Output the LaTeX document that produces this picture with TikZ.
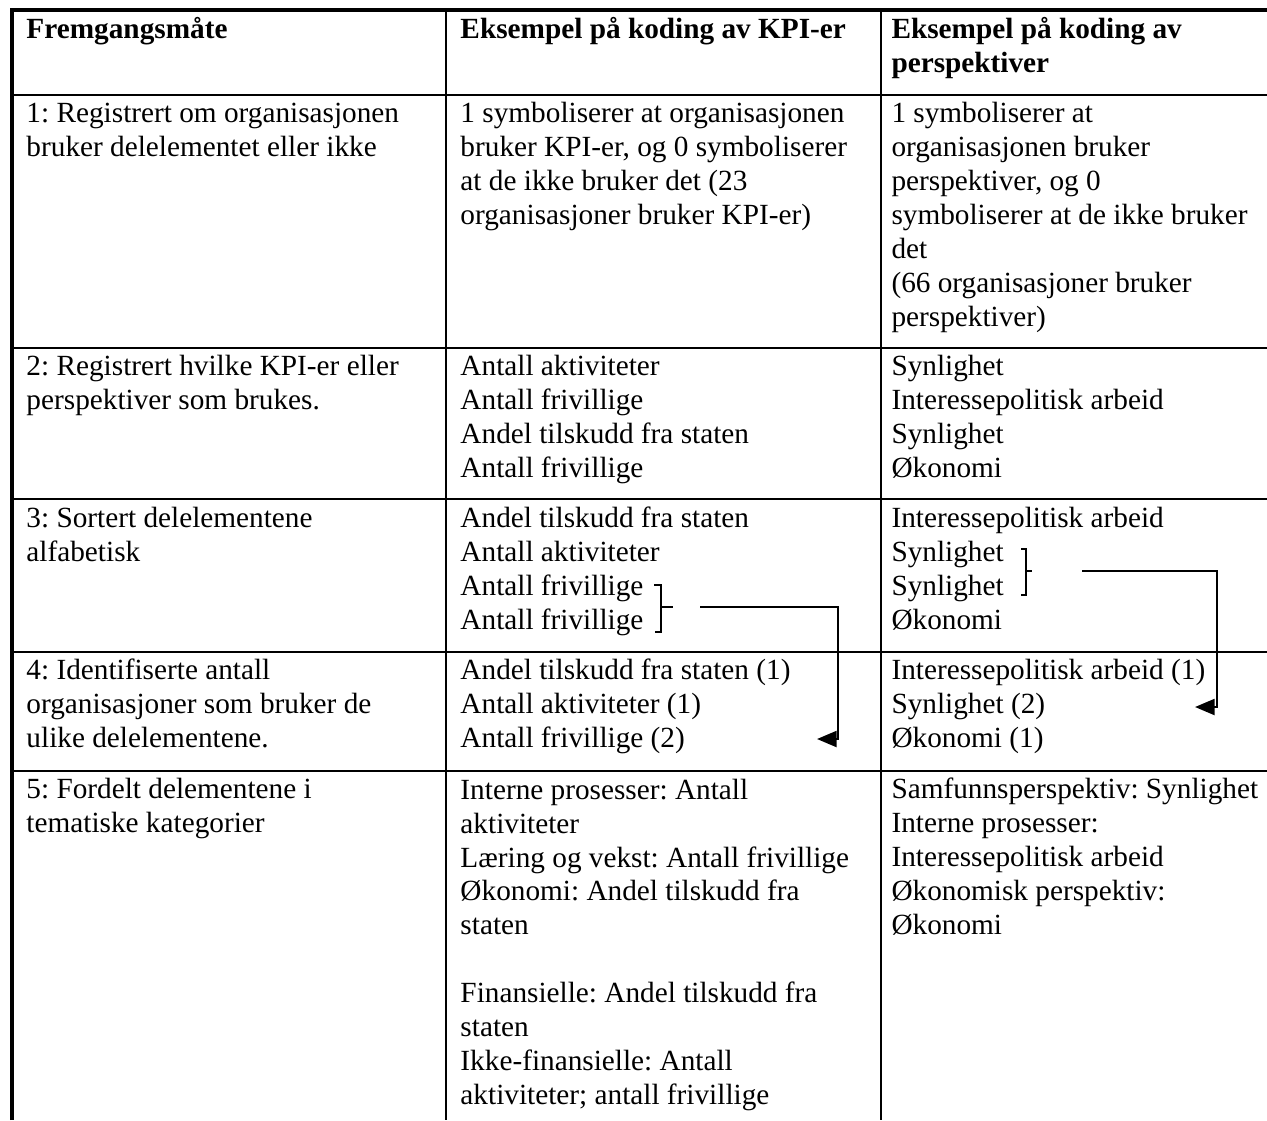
\documentclass[tikz,border=0pt]{standalone}
\usepackage{fontspec}
\setmainfont{Liberation Serif}
\usetikzlibrary{arrows.meta}
\newcommand\cellstrut{\rule{0pt}{10pt}}
\frenchspacing
\begin{document}
\begin{tikzpicture}[x=0.41pt,y=-0.41pt,
  cell/.style={anchor=north west,inner sep=0pt,align=left,font=\frenchspacing\fontsize{12}{13.94}\selectfont},
  head/.style={cell,font=\frenchspacing\fontsize{12}{13.94}\selectfont\bfseries},
  border/.style={line width=1.3pt},
  rule/.style={line width=1pt},
  conn/.style={line width=1pt,-{Triangle[length=8pt,width=6.5pt]}},
  bracepath/.style={line width=0.5pt}]
\useasboundingbox (0,0) rectangle (1267,1120);

% table lines
\draw[border] (12,1120) -- (12,10) -- (1267,10);
\draw[rule] (446,10) -- (446,1120);
\draw[rule] (881,10) -- (881,1120);
\foreach \yy in {95,348,499,652,771}{\draw[rule] (12,\yy) -- (1267,\yy);}

% header
\node[head] (h1) at (26,13.6) {\cellstrut Fremgangsmåte};
\node[head] (h2) at (460,13.6) {\cellstrut Eksempel på koding av KPI-er};
\node[head] (h3) at (891,13.6) {\cellstrut Eksempel på koding av\\perspektiver};

% row 1
\node[cell] (r1a) at (26,98.1) {\cellstrut 1: Registrert om organisasjonen\\bruker delelementet eller ikke};
\node[cell] (r1b) at (460,98.1) {\cellstrut 1 symboliserer at organisasjonen\\bruker KPI-er, og 0 symboliserer\\at de ikke bruker det (23\\organisasjoner bruker KPI-er)};
\node[cell] (r1c) at (891,98.1) {\cellstrut 1 symboliserer at\\organisasjonen bruker\\perspektiver, og 0\\symboliserer at de ikke bruker\\det\\(66 organisasjoner bruker\\perspektiver)};

% row 2
\node[cell] (r2a) at (26,351.1) {\cellstrut 2: Registrert hvilke KPI-er eller\\perspektiver som brukes.};
\node[cell] (r2b) at (460,351.1) {\cellstrut Antall aktiviteter\\Antall frivillige\\Andel tilskudd fra staten\\Antall frivillige};
\node[cell] (r2c) at (891,351.1) {\cellstrut Synlighet\\Interessepolitisk arbeid\\Synlighet\\Økonomi};

% row 3
\node[cell] (r3a) at (26,502.6) {\cellstrut 3: Sortert delelementene\\alfabetisk};
\node[cell] (r3b) at (460,502.6) {\cellstrut Andel tilskudd fra staten\\Antall aktiviteter\\Antall frivillige\\Antall frivillige};
\node[cell] (r3c) at (891,502.6) {\cellstrut Interessepolitisk arbeid\\Synlighet\\Synlighet\\Økonomi};

% row 4
\node[cell] (r4a) at (26,655.1) {\cellstrut 4: Identifiserte antall\\organisasjoner som bruker de\\ulike delelementene.};
\node[cell] (r4b) at (460,655.1) {\cellstrut Andel tilskudd fra staten (1)\\Antall aktiviteter (1)\\Antall frivillige (2)};
\node[cell] (r4c) at (891,655.1) {\cellstrut Interessepolitisk arbeid (1)\\Synlighet (2)\\Økonomi (1)};

% row 5
\node[cell] (r5a) at (26,774.1) {\cellstrut 5: Fordelt delementene i\\tematiske kategorier};
\node[cell] (r5b) at (460,774.1) {\cellstrut Interne prosesser: Antall\\aktiviteter\\Læring og vekst: Antall frivillige\\Økonomi: Andel tilskudd fra\\staten\\[13.94pt]Finansielle: Andel tilskudd fra\\staten\\Ikke-finansielle: Antall\\aktiviteter; antall frivillige};
\node[cell] (r5c) at (891,774.1) {\cellstrut Samfunnsperspektiv: Synlighet\\Interne prosesser:\\Interessepolitisk arbeid\\Økonomisk perspektiv:\\Økonomi};

% brackets
\draw[bracepath] (654,585) -- (661,585) -- (661,632) -- (655,632);
\draw[bracepath] (661,607) -- (673,607);
\draw[bracepath] (1021,549) -- (1026,549) -- (1026,595) -- (1021,595);
\draw[bracepath] (1026,571) -- (1032,571);

% connectors
\coordinate (ks) at (700,607);
\coordinate (kc) at (838,739);
\coordinate (ke) at (817,739);
\draw[conn] (ks) -| (kc) -- (ke);
\coordinate (ps) at (1082,571);
\coordinate (pc) at (1217,707);
\coordinate (pe) at (1195,707);
\draw[conn] (ps) -| (pc) -- (pe);
\end{tikzpicture}
\end{document}
